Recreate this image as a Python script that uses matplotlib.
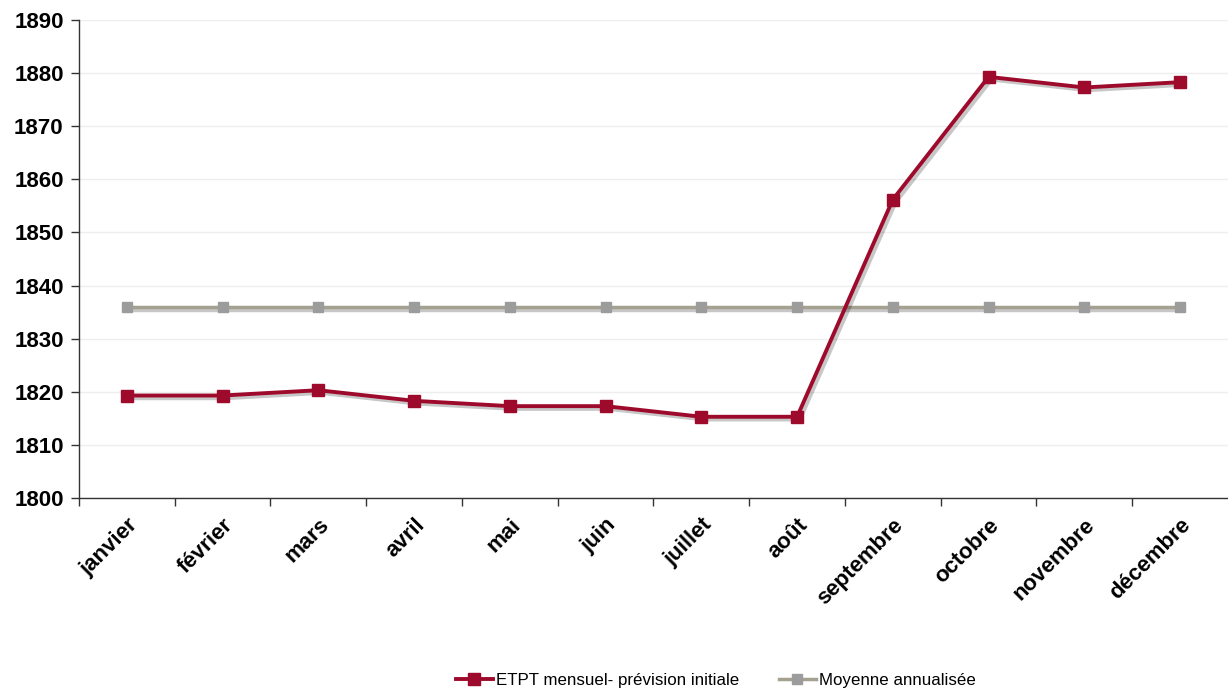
import matplotlib
matplotlib.use("Agg")
import matplotlib.pyplot as plt
import matplotlib.patheffects as pe
from matplotlib.lines import Line2D

months = ["janvier", "février", "mars", "avril", "mai", "juin", "juillet",
          "août", "septembre", "octobre", "novembre", "décembre"]
etpt_mensuel = [1819.3, 1819.3, 1820.3, 1818.3, 1817.3, 1817.3, 1815.3,
                1815.3, 1856.2, 1879.3, 1877.3, 1878.3]
moyenne_annuelle = [1836.0] * 12
y_ticks = [1800, 1810, 1820, 1830, 1840, 1850, 1860, 1870, 1880, 1890]

plt.rcParams['font.family'] = ['Liberation Sans', 'DejaVu Sans']

fig = plt.figure(figsize=(12.28, 6.98), dpi=100)
ax = fig.add_axes([0.0643, 0.2865, 0.9357, 0.6848])

x = list(range(len(months)))
shadow = [pe.SimpleLineShadow(offset=(2, -2), alpha=0.22, shadow_color="black"), pe.Normal()]

red = "#9e0a2b"
grey_line = "#a5a190"
grey_mark = "#9c9c9c"

# lines with a soft drop shadow, markers drawn on top
ax.plot(x, moyenne_annuelle, color=grey_line, lw=2.5, path_effects=shadow, zorder=3)
ax.plot(x, moyenne_annuelle, ls="none", marker="s", ms=6.5, mfc=grey_mark, mec=grey_mark, zorder=3.5)
ax.plot(x, etpt_mensuel, color=red, lw=2.8, path_effects=shadow, zorder=4)
ax.plot(x, etpt_mensuel, ls="none", marker="s", ms=8, mfc=red, mec=red, zorder=4.5)

ax.set_xlim(-0.5, len(months) - 0.5)
ax.set_ylim(1800, 1890)
ax.set_yticks(y_ticks)
ax.set_yticklabels([str(v) for v in y_ticks], fontsize=16, fontweight="bold")
ax.set_xticks([i - 0.5 for i in x], minor=False)
ax.set_xticklabels([])
ax.set_xticks(x, minor=True)
ax.set_xticklabels(months, minor=True, rotation=45, ha="right", va="top",
                   rotation_mode="anchor", fontsize=16, fontweight="bold")
ax.tick_params(axis="x", which="minor", length=0, pad=12)
ax.tick_params(axis="x", which="major", length=6, width=1, color="#333333")
ax.tick_params(axis="y", length=6, width=1, color="#333333", pad=5)

ax.grid(axis="y", color="#eeeeee", lw=1)
ax.set_axisbelow(True)
for side in ["top", "right"]:
    ax.spines[side].set_visible(False)
for side in ["left", "bottom"]:
    ax.spines[side].set_color("#333333")
    ax.spines[side].set_linewidth(1)

handles = [
    Line2D([], [], color=red, lw=2.8, marker="s", ms=8, mfc=red, mec=red),
    Line2D([], [], color=grey_line, lw=2.5, marker="s", ms=6.5, mfc=grey_mark, mec=grey_mark),
]
labels = ["ETPT mensuel- prévision initiale", "Moyenne annualisée"]
fig.legend(handles, labels, loc="lower center", ncol=2,
           bbox_to_anchor=(0.583, -0.007), frameon=False, fontsize=12.2,
           handlelength=2.2, handletextpad=0.2, columnspacing=2.3)

fig.savefig("out.png", dpi=100, facecolor="white")
